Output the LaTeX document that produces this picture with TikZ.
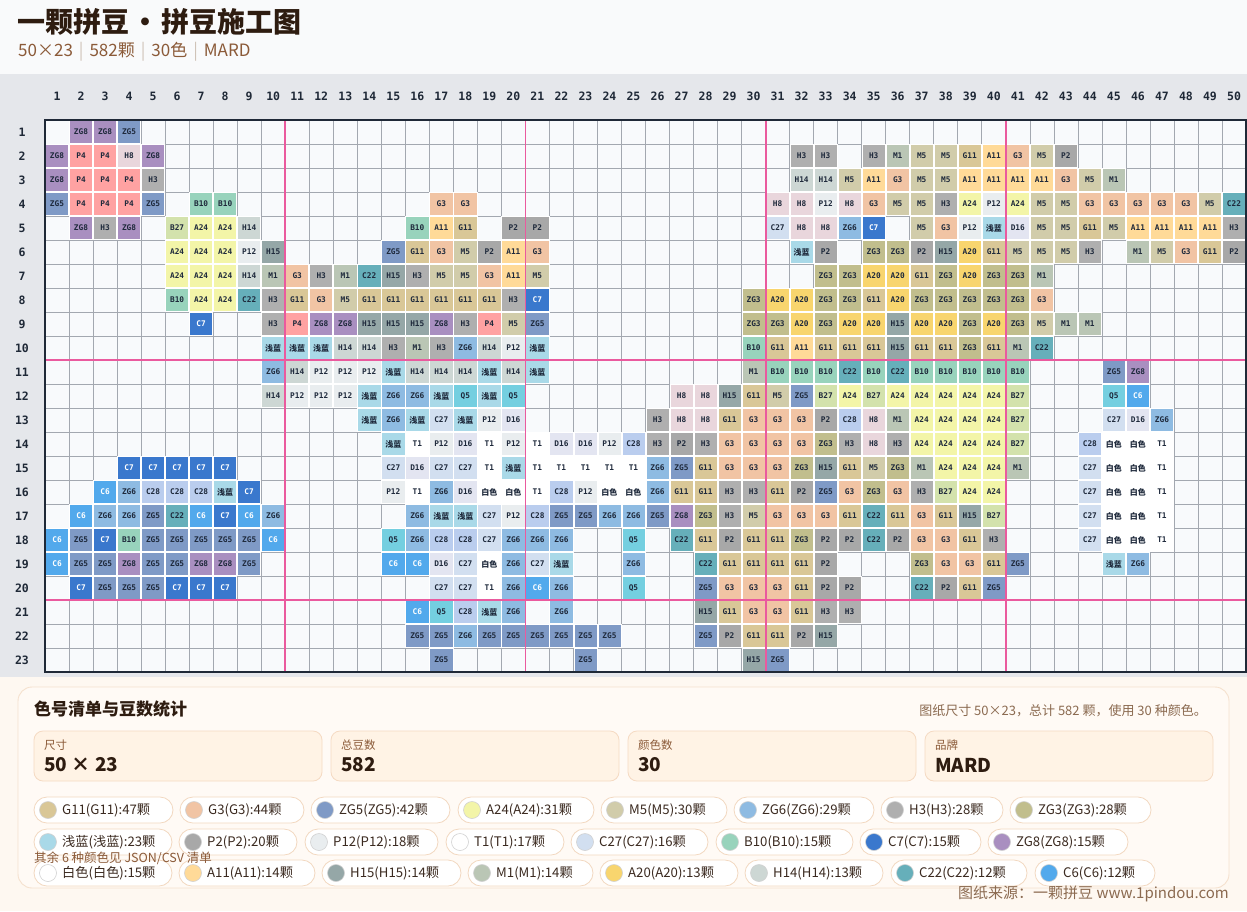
\documentclass[tikz,border=0pt]{standalone}
\usepackage{fontspec}
\setmainfont{Noto Sans CJK SC}
\newfontfamily\cjk{Noto Sans CJK SC}
\newfontfamily\monof{DejaVu Sans Mono}

\definecolor{beadink}{HTML}{1E293B}
\definecolor{topbg}{HTML}{F9FAFB}
\definecolor{bandbg}{HTML}{E5E7EB}
\definecolor{botbg}{HTML}{FEF8F1}
\definecolor{cellbg}{HTML}{F8FAFC}
\definecolor{gridln}{HTML}{A3A8B0}
\definecolor{pinkln}{HTML}{EA5A9E}
\definecolor{frame}{HTML}{1F2937}
\definecolor{darkbrown}{HTML}{2E1C10}
\definecolor{midbrown}{HTML}{8B5A38}
\definecolor{softbrown}{HTML}{8B6A50}
\definecolor{sepgray}{HTML}{CFC3B8}
\definecolor{panelfill}{HTML}{FFFAF5}
\definecolor{panelline}{HTML}{F5E1CE}
\definecolor{statfill}{HTML}{FFF3E5}
\definecolor{statline}{HTML}{F5DAC2}
\definecolor{chipline}{HTML}{F2D8C0}
\definecolor{chipink}{HTML}{3B2A20}

\newcommand\defbead[3]{\definecolor{c#1}{HTML}{#2}\colorlet{t#1}{#3}}
\defbead{ZG8}{A98FC0}{beadink}
\defbead{ZG5}{7F9AC6}{beadink}
\defbead{P4}{FFA2A2}{beadink}
\defbead{H8}{E9D6DC}{beadink}
\defbead{H3}{AFAFAF}{beadink}
\defbead{M1}{BAC6B5}{beadink}
\defbead{M5}{D1CCAA}{beadink}
\defbead{G11}{D9C797}{beadink}
\defbead{A11}{FFDA98}{beadink}
\defbead{G3}{F1C4A4}{beadink}
\defbead{P2}{A8A8A8}{beadink}
\defbead{H14}{CDD7D4}{beadink}
\defbead{B10}{98D3BC}{beadink}
\defbead{A24}{F3F5A8}{beadink}
\defbead{P12}{E9EDEF}{beadink}
\defbead{C22}{66AFBA}{beadink}
\defbead{B27}{D3E2AC}{beadink}
\defbead{ZG6}{8EBBE2}{beadink}
\defbead{C7}{3A78CD}{white}
\defbead{QL}{A9D9E8}{beadink}
\defbead{D16}{E3E5F1}{beadink}
\defbead{H15}{95A7A7}{beadink}
\defbead{ZG3}{C1BE8D}{beadink}
\defbead{A20}{F8D56E}{beadink}
\defbead{C27}{D2DFF0}{beadink}
\defbead{Q5}{74CFE0}{beadink}
\defbead{C28}{BACDEE}{beadink}
\defbead{T1}{FFFFFF}{beadink}
\defbead{BS}{FFFFFF}{beadink}
\defbead{C6}{52A9EC}{white}

\newcommand\labQL{{\cjk\bfseries\fontsize{8}{8}\selectfont 浅蓝}}
\newcommand\labBS{{\cjk\bfseries\fontsize{8}{8}\selectfont 白色}}
\newcommand\beadlab[1]{\ifcsname lab#1\endcsname\csname lab#1\endcsname\else#1\fi}
\newcommand\beadrow[2]{\foreach \c/\k in {#2}{\node[bead,fill=c\k,text=t\k] (b#1-\c) at ({45+(\c-0.5)*24.02},{120+(#1-0.5)*24}) {\beadlab{\k}};}}
\newcommand\chip[6]{\draw[chipbox] (#2,#4-13) rectangle (#3,#4+13);
  \node[swatch,fill=c#5] (sw#1) at (#2+14,#4) {};
  \node[chiptext] (ct#1) at (#2+28,#4) {#6};}
\newcommand\stat[5]{\draw[statbox] (#2,731) rectangle (#3,781);
  \node[statlab] (sl#1) at (#2+10,745) {#4};
  \node[statval] (sv#1) at (#2+10,765) {#5};}
\newcommand\sepbar{\hspace{6pt}{\color{sepgray}|}\hspace{6pt}}

\begin{document}
\begin{tikzpicture}[x=1pt,y=-1pt,
  bead/.style={rectangle,minimum width=23.2pt,minimum height=23.2pt,inner sep=0pt,draw=white,line width=0.7pt,font=\monof\bfseries\fontsize{7.8}{8}\selectfont},
  gridline/.style={draw=gridln,line width=0.6pt},
  pinkline/.style={draw=pinkln,line width=1.8pt},
  axislab/.style={font=\monof\bfseries\fontsize{11.5}{12}\selectfont,text=frame,inner sep=0pt},
  chipbox/.style={draw=chipline,fill=white,line width=0.8pt,rounded corners=13pt},
  swatch/.style={circle,minimum size=17pt,inner sep=0pt,draw=black!18,line width=0.6pt},
  chiptext/.style={anchor=west,inner sep=0pt,font=\fontsize{13.2}{14}\selectfont,text=chipink},
  statbox/.style={draw=statline,fill=statfill,line width=0.8pt,rounded corners=9pt},
  statlab/.style={anchor=west,inner sep=0pt,font=\fontsize{11.5}{12}\selectfont,text=midbrown},
  statval/.style={anchor=west,inner sep=0pt,font=\bfseries\fontsize{19}{20}\selectfont,text=darkbrown}]
\useasboundingbox (0,0) rectangle (1247,911);
% backgrounds
\fill[topbg] (0,0) rectangle (1247,74);
\fill[bandbg] (0,74) rectangle (1247,677);
\fill[botbg] (0,677) rectangle (1247,911);
% header
\node[anchor=west,inner sep=0pt,font=\bfseries\fontsize{28}{30}\selectfont,text=darkbrown] (title) at (17,22) {一颗拼豆\hspace{2pt}·\hspace{2pt}拼豆施工图};
\node[anchor=west,inner sep=0pt,font=\fontsize{17}{18}\selectfont,text=midbrown] (subtitle) at (18,52) {50×23\sepbar 582颗\sepbar 30色\sepbar MARD};
% grid
\fill[cellbg] (45,120) rectangle (1246,672);
\foreach \i in {0,...,50} \draw[gridline] ({45+\i*24.02},120) -- ({45+\i*24.02},672);
\foreach \j in {0,...,23} \draw[gridline] (45,{120+\j*24}) -- (1246,{120+\j*24});
\foreach \i in {1,...,50} \node[axislab] (col\i) at ({45+(\i-0.5)*24.02},96) {\i};
\foreach \j in {1,...,23} \node[axislab] (row\j) at (22,{120+(\j-0.5)*24}) {\j};
% beads
\beadrow{1}{2/ZG8,3/ZG8,4/ZG5}
\beadrow{2}{1/ZG8,2/P4,3/P4,4/H8,5/ZG8,32/H3,33/H3,35/H3,36/M1,37/M5,38/M5,39/G11,40/A11,41/G3,42/M5,43/P2}
\beadrow{3}{1/ZG8,2/P4,3/P4,4/P4,5/H3,32/H14,33/H14,34/M5,35/A11,36/G3,37/M5,38/M5,39/A11,40/A11,41/A11,42/A11,43/G3,44/M5,45/M1}
\beadrow{4}{1/ZG5,2/P4,3/P4,4/P4,5/ZG5,7/B10,8/B10,17/G3,18/G3,31/H8,32/H8,33/P12,34/H8,35/G3,36/M5,37/M5,38/H3,39/A24,40/P12,41/A24,42/M5,43/M5,44/G3,45/G3,46/G3,47/G3,48/G3,49/M5,50/C22}
\beadrow{5}{2/ZG8,3/H3,4/ZG8,6/B27,7/A24,8/A24,9/H14,16/B10,17/A11,18/G11,20/P2,21/P2,31/C27,32/H8,33/H8,34/ZG6,35/C7,37/M5,38/G3,39/P12,40/QL,41/D16,42/M5,43/M5,44/G11,45/M5,46/A11,47/A11,48/A11,49/A11,50/H3}
\beadrow{6}{6/A24,7/A24,8/A24,9/P12,10/H15,15/ZG5,16/G11,17/G3,18/M5,19/P2,20/A11,21/G3,32/QL,33/P2,35/ZG3,36/ZG3,37/P2,38/H15,39/A20,40/G11,41/M5,42/M5,43/M5,44/H3,46/M1,47/M5,48/G3,49/G11,50/P2}
\beadrow{7}{6/A24,7/A24,8/A24,9/H14,10/M1,11/G3,12/H3,13/M1,14/C22,15/H15,16/H3,17/M5,18/M5,19/G3,20/A11,21/M5,33/ZG3,34/ZG3,35/A20,36/A20,37/G11,38/ZG3,39/A20,40/ZG3,41/ZG3,42/M1}
\beadrow{8}{6/B10,7/A24,8/A24,9/C22,10/H3,11/G11,12/G3,13/M5,14/G11,15/G11,16/G11,17/G11,18/G11,19/G11,20/H3,21/C7,30/ZG3,31/A20,32/A20,33/ZG3,34/ZG3,35/G11,36/A20,37/ZG3,38/ZG3,39/ZG3,40/ZG3,41/ZG3,42/G3}
\beadrow{9}{7/C7,10/H3,11/P4,12/ZG8,13/ZG8,14/H15,15/H15,16/H15,17/ZG8,18/H3,19/P4,20/M5,21/ZG5,30/ZG3,31/ZG3,32/A20,33/ZG3,34/A20,35/A20,36/H15,37/A20,38/A20,39/ZG3,40/A20,41/ZG3,42/M5,43/M1,44/M1}
\beadrow{10}{10/QL,11/QL,12/QL,13/H14,14/H14,15/H3,16/M1,17/H3,18/ZG6,19/H14,20/P12,21/QL,30/B10,31/G11,32/A11,33/G11,34/G11,35/G11,36/H15,37/G11,38/G11,39/ZG3,40/G11,41/M1,42/C22}
\beadrow{11}{10/ZG6,11/H14,12/P12,13/P12,14/P12,15/QL,16/H14,17/H14,18/H14,19/QL,20/H14,21/QL,30/M1,31/B10,32/B10,33/B10,34/C22,35/B10,36/C22,37/B10,38/B10,39/B10,40/B10,41/B10,45/ZG5,46/ZG8}
\beadrow{12}{10/H14,11/P12,12/P12,13/P12,14/QL,15/ZG6,16/ZG6,17/QL,18/Q5,19/QL,20/Q5,27/H8,28/H8,29/H15,30/G11,31/M5,32/ZG5,33/B27,34/A24,35/B27,36/A24,37/A24,38/A24,39/A24,40/A24,41/B27,45/Q5,46/C6}
\beadrow{13}{14/QL,15/ZG6,16/QL,17/C27,18/QL,19/P12,20/D16,26/H3,27/H8,28/H8,29/G11,30/G3,31/G3,32/G3,33/P2,34/C28,35/H8,36/M1,37/A24,38/A24,39/A24,40/A24,41/B27,45/C27,46/D16,47/ZG6}
\beadrow{14}{15/QL,16/T1,17/P12,18/D16,19/T1,20/P12,21/T1,22/D16,23/D16,24/P12,25/C28,26/H3,27/P2,28/H3,29/G3,30/G3,31/G3,32/G3,33/ZG3,34/H3,35/H8,36/H3,37/A24,38/A24,39/A24,40/A24,41/B27,44/C28,45/BS,46/BS,47/T1}
\beadrow{15}{4/C7,5/C7,6/C7,7/C7,8/C7,15/C27,16/D16,17/C27,18/C27,19/T1,20/QL,21/T1,22/T1,23/T1,24/T1,25/T1,26/ZG6,27/ZG5,28/G11,29/G3,30/G3,31/G3,32/ZG3,33/H15,34/G11,35/M5,36/ZG3,37/M1,38/A24,39/A24,40/A24,41/M1,44/C27,45/BS,46/BS,47/T1}
\beadrow{16}{3/C6,4/ZG6,5/C28,6/C28,7/C28,8/QL,9/C7,15/P12,16/T1,17/ZG6,18/D16,19/BS,20/BS,21/T1,22/C28,23/P12,24/BS,25/BS,26/ZG6,27/G11,28/G11,29/H3,30/H3,31/G11,32/P2,33/ZG5,34/G3,35/ZG3,36/G3,37/H3,38/B27,39/A24,40/A24,44/C27,45/BS,46/BS,47/T1}
\beadrow{17}{2/C6,3/ZG6,4/ZG6,5/ZG5,6/C22,7/C6,8/C7,9/C6,10/ZG6,16/ZG6,17/QL,18/QL,19/C27,20/P12,21/C28,22/ZG5,23/ZG5,24/ZG6,25/ZG6,26/ZG5,27/ZG8,28/ZG3,29/H3,30/M5,31/G3,32/G3,33/G3,34/G11,35/C22,36/G11,37/G3,38/G11,39/H15,40/B27,44/C27,45/BS,46/BS,47/T1}
\beadrow{18}{1/C6,2/ZG5,3/C7,4/B10,5/ZG5,6/ZG5,7/ZG5,8/ZG5,9/ZG5,10/C6,15/Q5,16/ZG6,17/C28,18/C28,19/C27,20/ZG6,21/ZG6,22/ZG6,25/Q5,27/C22,28/G11,29/P2,30/G11,31/G11,32/ZG3,33/P2,34/P2,35/C22,36/P2,37/G3,38/G3,39/G11,40/H3,44/C27,45/BS,46/BS,47/T1}
\beadrow{19}{1/C6,2/ZG5,3/ZG5,4/ZG8,5/ZG5,6/ZG5,7/ZG8,8/ZG8,9/ZG5,15/C6,16/C6,17/D16,18/C27,19/BS,20/ZG6,21/C27,22/QL,25/ZG6,28/C22,29/G11,30/G11,31/G11,32/G11,33/P2,37/ZG3,38/G3,39/G3,40/G11,41/ZG5,45/QL,46/ZG6}
\beadrow{20}{2/C7,3/ZG5,4/ZG5,5/ZG5,6/C7,7/C7,8/C7,17/C27,18/C27,19/T1,20/ZG6,21/C6,22/ZG6,25/Q5,28/ZG5,29/G3,30/G3,31/G3,32/G11,33/P2,34/P2,37/C22,38/P2,39/G11,40/ZG5}
\beadrow{21}{16/C6,17/Q5,18/C28,19/QL,20/ZG6,22/ZG6,28/H15,29/G11,30/G3,31/G3,32/G11,33/H3,34/H3}
\beadrow{22}{16/ZG5,17/ZG5,18/ZG6,19/ZG5,20/ZG5,21/ZG5,22/ZG5,23/ZG5,24/ZG5,28/ZG5,29/P2,30/G11,31/G11,32/P2,33/H15}
\beadrow{23}{17/ZG5,23/ZG5,30/H15,31/ZG5}
% ten-lines
\foreach \i in {10,20,30,40} \draw[pinkline] ({45+\i*24.02},120) -- ({45+\i*24.02},672);
\foreach \j in {10,20} \draw[pinkline] (45,{120+\j*24}) -- (1246,{120+\j*24});
\draw[frame,line width=2pt] (45,120) rectangle (1246,672);
% legend panel
\draw[draw=panelline,fill=panelfill,line width=0.9pt,rounded corners=14pt] (18,687) rectangle (1229,888);
\node[anchor=west,inner sep=0pt,font=\bfseries\fontsize{17}{18}\selectfont,text=darkbrown] (ltitle) at (34,709) {色号清单与豆数统计};
\node[anchor=east,inner sep=0pt,font=\fontsize{13}{14}\selectfont,text=softbrown] (lnote) at (1207,711) {图纸尺寸 50×23，总计 582 颗，使用 30 种颜色。};
\stat{1}{34}{322}{尺寸}{50 × 23}
\stat{2}{331}{619}{总豆数}{582}
\stat{3}{628}{916}{颜色数}{30}
\stat{4}{925}{1213}{品牌}{MARD}
% chips row 1
\chip{1}{34}{173}{810}{G11}{G11(G11):47颗}
\chip{2}{180}{304}{810}{G3}{G3(G3):44颗}
\chip{3}{311}{450}{810}{ZG5}{ZG5(ZG5):42颗}
\chip{4}{458}{594}{810}{A24}{A24(A24):31颗}
\chip{5}{601}{727}{810}{M5}{M5(M5):30颗}
\chip{6}{734}{874}{810}{ZG6}{ZG6(ZG6):29颗}
\chip{7}{881}{1003}{810}{H3}{H3(H3):28颗}
\chip{8}{1010}{1151}{810}{ZG3}{ZG3(ZG3):28颗}
% chips row 2
\chip{9}{34}{172}{842}{QL}{浅蓝(浅蓝):23颗}
\chip{10}{179}{297}{842}{P2}{P2(P2):20颗}
\chip{11}{305}{438}{842}{P12}{P12(P12):18颗}
\chip{12}{446}{564}{842}{T1}{T1(T1):17颗}
\chip{13}{571}{708}{842}{C27}{C27(C27):16颗}
\chip{14}{716}{853}{842}{B10}{B10(B10):15颗}
\chip{15}{860}{981}{842}{C7}{C7(C7):15颗}
\chip{16}{988}{1128}{842}{ZG8}{ZG8(ZG8):15颗}
% chips row 3
\chip{17}{34}{172}{873}{BS}{白色(白色):15颗}
\chip{18}{179}{315}{873}{A11}{A11(A11):14颗}
\chip{19}{322}{461}{873}{H15}{H15(H15):14颗}
\chip{20}{468}{593}{873}{M1}{M1(M1):14颗}
\chip{21}{600}{738}{873}{A20}{A20(A20):13颗}
\chip{22}{745}{883}{873}{H14}{H14(H14):13颗}
\chip{23}{891}{1027}{873}{C22}{C22(C22):12颗}
\chip{24}{1035}{1155}{873}{C6}{C6(C6):12颗}
\node[anchor=west,inner sep=0pt,font=\fontsize{12.5}{13}\selectfont,text=midbrown] (more) at (34,858) {其余 6 种颜色见 JSON/CSV 清单};
\node[anchor=east,inner sep=0pt,font=\fontsize{15}{16}\selectfont,text=softbrown] (source) at (1229,894) {图纸来源：一颗拼豆 www.1pindou.com};
\end{tikzpicture}
\end{document}
